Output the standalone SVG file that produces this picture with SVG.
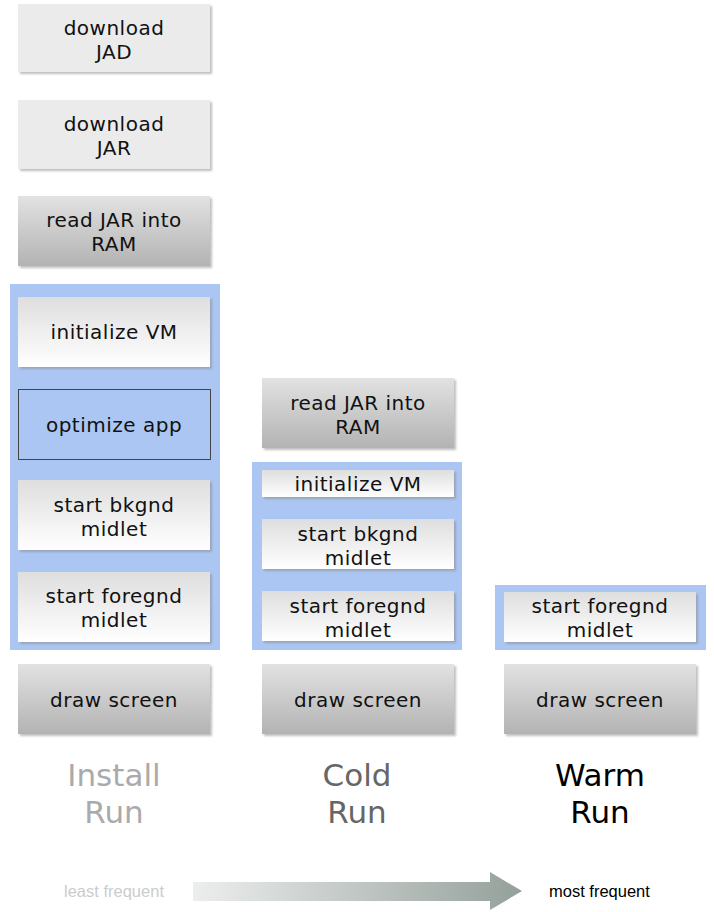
<svg xmlns="http://www.w3.org/2000/svg" width="714" height="912" viewBox="0 0 714 912">
<defs>
<linearGradient id="gGray" x1="0" y1="0" x2="0" y2="1">
<stop offset="0" stop-color="#e2e2e2"/>
<stop offset="1" stop-color="#b3b3b3"/>
</linearGradient>
<linearGradient id="gWhite" x1="0" y1="0" x2="0" y2="1">
<stop offset="0" stop-color="#dedede"/>
<stop offset="1" stop-color="#ffffff"/>
</linearGradient>
<linearGradient id="gArrow" x1="0" y1="0" x2="1" y2="0">
<stop offset="0" stop-color="#eceeed"/>
<stop offset="1" stop-color="#95a09b"/>
</linearGradient>
<filter id="shadow" x="-5%" y="-5%" width="115%" height="120%">
<feDropShadow dx="2" dy="2" stdDeviation="0.8" flood-color="#888" flood-opacity="0.55"/>
</filter>
</defs>
<style>
.light{fill:#ebebeb;filter:url(#shadow)}
.gray{fill:url(#gGray);filter:url(#shadow)}
.white{fill:url(#gWhite);filter:url(#shadow)}
.panel{fill:#abc6f3}
.outline{fill:none;stroke:#444;stroke-width:1}
.t{font-family:"DejaVu Sans",Verdana,sans-serif;font-size:20px;letter-spacing:0.5px;fill:#111;text-anchor:middle}
.lbl{font-family:"DejaVu Sans",Verdana,sans-serif;font-size:31px;text-anchor:middle}
.leg{font-family:"Liberation Sans",Arial,sans-serif;font-size:16.5px}
</style>
<rect width="714" height="912" fill="#ffffff"/>
<g id="panels">
<rect class="panel" x="10" y="284" width="210" height="366"/>
<rect class="panel" x="252" y="462" width="210" height="188"/>
<rect class="panel" x="495" y="585" width="211" height="65"/>
</g>
<g id="install">
<g id="i-jad"><rect class="light" x="18" y="4" width="192" height="68"/><text class="t" x="114" y="35">download</text><text class="t" x="114" y="59">JAD</text></g>
<g id="i-jar"><rect class="light" x="18" y="100" width="192" height="69"/><text class="t" x="114" y="131">download</text><text class="t" x="114" y="155">JAR</text></g>
<g id="i-read"><rect class="gray" x="18" y="196" width="192" height="70"/><text class="t" x="114" y="227">read JAR into</text><text class="t" x="114" y="251">RAM</text></g>
<g id="i-init"><rect class="white" x="18" y="297" width="192" height="70"/><text class="t" x="114" y="339">initialize VM</text></g>
<g id="i-opt"><rect class="outline" x="18.5" y="389.5" width="192" height="70"/><text class="t" x="114" y="432">optimize app</text></g>
<g id="i-bk"><rect class="white" x="18" y="480" width="192" height="70"/><text class="t" x="114" y="512">start bkgnd</text><text class="t" x="114" y="536">midlet</text></g>
<g id="i-fg"><rect class="white" x="18" y="572" width="192" height="70"/><text class="t" x="114" y="603">start foregnd</text><text class="t" x="114" y="627">midlet</text></g>
<g id="i-draw"><rect class="gray" x="18" y="664" width="192" height="70"/><text class="t" x="114" y="707">draw screen</text></g>
<text class="lbl" x="114" y="786" fill="#aaaaaa">Install</text>
<text class="lbl" x="114" y="823" fill="#aaaaaa">Run</text>
</g>
<g id="cold">
<g id="c-read"><rect class="gray" x="262" y="378" width="192" height="70"/><text class="t" x="358" y="410">read JAR into</text><text class="t" x="358" y="434">RAM</text></g>
<g id="c-init"><rect class="white" x="262" y="470" width="192" height="27"/><text class="t" x="358" y="491">initialize VM</text></g>
<g id="c-bk"><rect class="white" x="262" y="519" width="192" height="50"/><text class="t" x="358" y="541">start bkgnd</text><text class="t" x="358" y="565">midlet</text></g>
<g id="c-fg"><rect class="white" x="262" y="591" width="192" height="50"/><text class="t" x="358" y="613">start foregnd</text><text class="t" x="358" y="637">midlet</text></g>
<g id="c-draw"><rect class="gray" x="262" y="664" width="192" height="70"/><text class="t" x="358" y="707">draw screen</text></g>
<text class="lbl" x="357" y="786" fill="#666666">Cold</text>
<text class="lbl" x="357" y="823" fill="#666666">Run</text>
</g>
<g id="warm">
<g id="w-fg"><rect class="white" x="504" y="592" width="192" height="50"/><text class="t" x="600" y="613">start foregnd</text><text class="t" x="600" y="637">midlet</text></g>
<g id="w-draw"><rect class="gray" x="504" y="664" width="192" height="70"/><text class="t" x="600" y="707">draw screen</text></g>
<text class="lbl" x="600" y="786" fill="#000000">Warm</text>
<text class="lbl" x="600" y="823" fill="#000000">Run</text>
</g>
<g id="connectors">
<polygon points="193,882 490,882 490,872 522,891 490,910 490,901 193,901" fill="url(#gArrow)"/>
</g>
<g id="legend">
<text class="leg" x="64" y="897" fill="#cccccc">least frequent</text>
<text class="leg" x="549" y="897" fill="#000000">most frequent</text>
</g>
</svg>
